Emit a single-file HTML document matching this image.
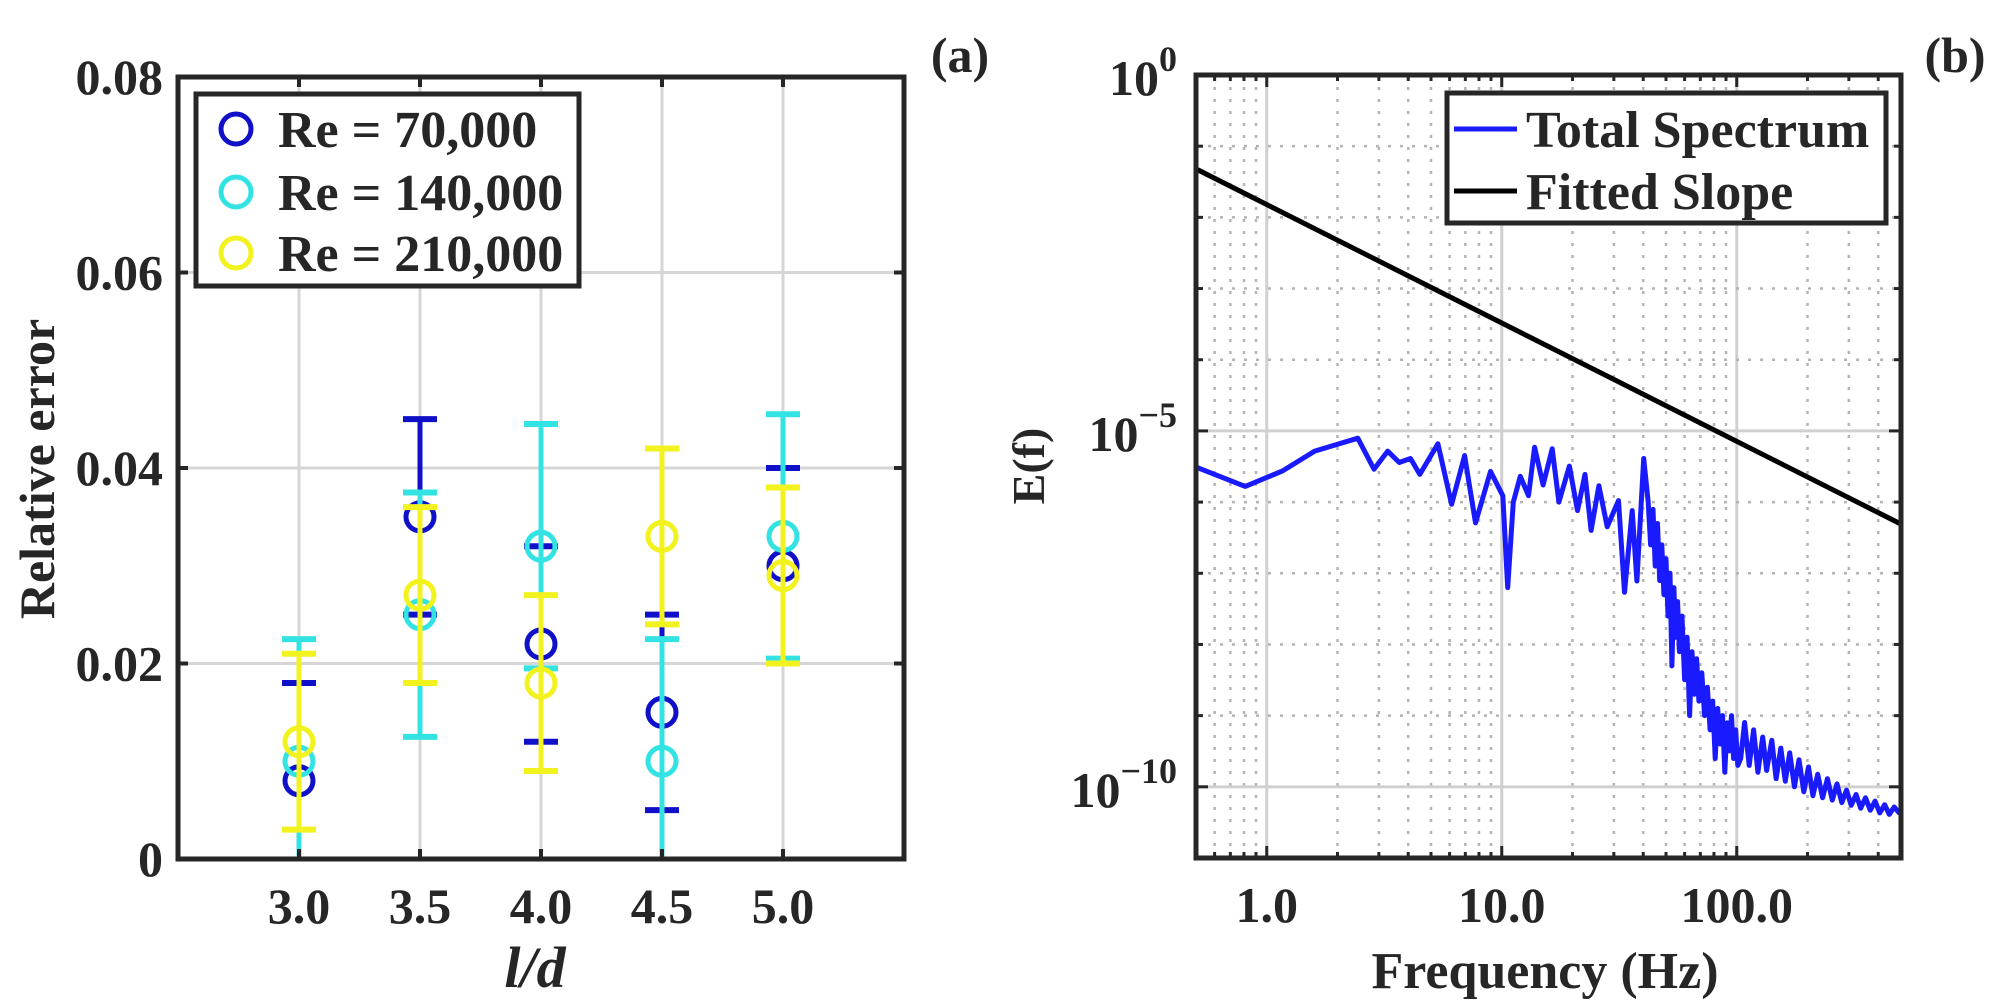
<!DOCTYPE html>
<html><head><meta charset="utf-8"><style>
html,body{margin:0;padding:0;background:#fff;}
svg{display:block;}
text{font-family:"Liberation Serif",serif;font-weight:bold;fill:#262626;}
</style></head><body>
<svg id="fig" width="2002" height="1007" viewBox="0 0 2002 1007" xmlns="http://www.w3.org/2000/svg">
<defs>
<clipPath id="clipA"><rect x="178" y="77" width="726" height="782"/></clipPath>
<clipPath id="clipB"><rect x="1196" y="75" width="705" height="783"/></clipPath>
</defs>
<g id="gridA"></g>
<g id="gridB"></g>
<g id="marksA" clip-path="url(#clipA)"></g>
<g id="marksB" clip-path="url(#clipB)"></g>
<g id="axesA"></g>
<g id="axesB"></g>

<text x="960" y="72" font-size="50" text-anchor="middle">(a)</text>
<text x="1955" y="72" font-size="50" text-anchor="middle">(b)</text>
<text x="0" y="0" font-size="50" text-anchor="middle" transform="translate(54,469) rotate(-90)">Relative error</text>
<text x="535" y="987" font-size="58" font-style="italic" text-anchor="middle">l/d</text>
<text x="0" y="0" font-size="46" text-anchor="middle" transform="translate(1044,466) rotate(-90)">E(f)</text>
<text x="1545" y="988" font-size="52" text-anchor="middle">Frequency (Hz)</text>

<g>
<rect x="196" y="94" width="383" height="192" fill="#fff" stroke="#262626" stroke-width="5"/>
<g><circle cx="236" cy="129" r="15" fill="none" stroke="#1010c8" stroke-width="5"/><text x="278" y="147" font-size="52">Re = 70,000</text></g>
<g><circle cx="236" cy="192" r="15" fill="none" stroke="#33e3e3" stroke-width="5"/><text x="278" y="210" font-size="52">Re = 140,000</text></g>
<g><circle cx="236" cy="253" r="15" fill="none" stroke="#f2f21e" stroke-width="5"/><text x="278" y="271" font-size="52">Re = 210,000</text></g>
</g>
<g>
<rect x="1447" y="93" width="439" height="130" fill="#fff" stroke="#262626" stroke-width="5"/>
<g><line x1="1454" y1="129" x2="1517" y2="129" stroke="#1a1aff" stroke-width="5"/><text x="1526" y="147" font-size="52">Total Spectrum</text></g>
<g><line x1="1454" y1="191" x2="1517" y2="191" stroke="#000" stroke-width="5"/><text x="1526" y="209" font-size="52">Fitted Slope</text></g>
</g>
</svg>
<script>
// ---- Panel (a) data ----
const ldValues = [3.0, 3.5, 4.0, 4.5, 5.0];
const ldTickLabels = ["3.0", "3.5", "4.0", "4.5", "5.0"];
const errTicks = [0, 0.02, 0.04, 0.06, 0.08];
const errTickLabels = ["0", "0.02", "0.04", "0.06", "0.08"];
const re70 = [0.008, 0.035, 0.022, 0.015, 0.030];
const re70Err = [0.010, 0.010, 0.010, 0.010, 0.010];
const re140 = [0.010, 0.025, 0.032, 0.010, 0.033];
const re140Err = [0.0125, 0.0125, 0.0125, 0.0125, 0.0125];
const re210 = [0.012, 0.027, 0.018, 0.033, 0.029];
const re210Err = [0.009, 0.009, 0.009, 0.009, 0.009];
// ---- Panel (b) data ----
const freqTicks = [1, 10, 100];
const freqTickLabels = ["1.0", "10.0", "100.0"];
const eDecadeTicks = [0, -5, -10];
const specFreq = [0.5,0.81,1.17,1.6,2.44,2.86,3.27,3.66,4.09,4.48,5.35,6.12,6.95,7.73,8.96,10.1,10.6,11.2,12.0,13.0,13.8,15.0,16.4,17.5,19.4,21.0,22.6,24.0,25.9,28.1,31.4,33.3,35.9,37.6,40.2,
42,43,44,45,46,47,48,49,50,51,52,53,54,55,56,57,58.5,60,61.5,63,64.5,66,67.5,69,71,73,75,77,79,81,83,85,87,89,91,93,95,97,99,101,
104,108,113,118,123,129,134,141,147,154,161,168,176,184,193,202,211,221,232,243,255,267,280,293,307,322,337,353,370,388,406,426,446,468,494];
const specE = [3.1e-6,1.66e-6,2.75e-6,5.2e-6,7.9e-6,2.9e-6,5.2e-6,3.6e-6,4.1e-6,2.45e-6,6.6e-6,9.3e-7,4.5e-6,5.1e-7,2.7e-6,1.23e-6,6.3e-8,1.0e-6,2.3e-6,1.23e-6,5.9e-6,1.74e-6,5.6e-6,1.0e-6,3.2e-6,7.6e-7,2.45e-6,4.0e-7,1.7e-6,4.5e-7,1.05e-6,5.4e-8,7.6e-7,7.8e-8,4.1e-6,
1e-6,2.5e-7,7.9e-7,1.26e-7,5e-7,7.9e-8,2.5e-7,5e-8,1.6e-7,2.5e-8,1e-7,5e-9,6.3e-8,1.26e-8,4e-8,7.9e-9,2.5e-8,3.2e-9,1.26e-8,1e-9,7.9e-9,2e-9,6.3e-9,1.6e-9,4e-9,1e-9,2.5e-9,6.3e-10,1.6e-9,2.5e-10,1.26e-9,4e-10,1e-9,1.6e-10,7.9e-10,3.2e-10,1e-9,2.5e-10,6.3e-10,2e-10,
2.5e-10,8e-10,2.0e-10,6.3e-10,1.6e-10,5e-10,1.7e-10,4.5e-10,1.3e-10,3.5e-10,1.2e-10,3e-10,1.0e-10,2.4e-10,8.5e-11,1.9e-10,7.5e-11,1.5e-10,7e-11,1.3e-10,6.5e-11,1.1e-10,6e-11,9e-11,5.5e-11,7.8e-11,5e-11,7e-11,4.7e-11,6.3e-11,4.3e-11,5.6e-11,4.1e-11,5.2e-11,4.2e-11];
const fitFreq = [0.5, 500];
const fitE = [0.048, 4.9e-7];

const NS = "http://www.w3.org/2000/svg";
function mk(tag, attrs, parent){const e=document.createElementNS(NS,tag);for(const k in attrs)e.setAttribute(k,attrs[k]);parent.appendChild(e);return e;}
const AX = "#262626";

const A = {l:178, r:904, t:77, b:859, x0:2.5, x1:5.5, y0:0, y1:0.08};
function xa(v){return A.l + (v - A.x0) / (A.x1 - A.x0) * (A.r - A.l);}
function ya(v){return A.b - (v - A.y0) / (A.y1 - A.y0) * (A.b - A.t);}
const B = {l:1196, r:1901, t:75, b:858, lf0:Math.log10(0.5), lf1:Math.log10(500), le0:0, le1:-11};
function xb(f){return B.l + (Math.log10(f) - B.lf0) / (B.lf1 - B.lf0) * (B.r - B.l);}
function ybLog(le){return B.t + (le - B.le0) / (B.le1 - B.le0) * (B.b - B.t);}
function yb(E){return ybLog(Math.log10(E));}

const gA = document.getElementById('gridA');
ldValues.forEach(v=>{const l=mk('line',{x1:xa(v),x2:xa(v),y1:A.t,y2:A.b,stroke:'#d6d6d6','stroke-width':3},gA);

});
errTicks.forEach(v=>{const l=mk('line',{x1:A.l,x2:A.r,y1:ya(v),y2:ya(v),stroke:'#d6d6d6','stroke-width':3},gA);

});

const axA = document.getElementById('axesA');
ldValues.forEach((v,i)=>{
  mk('line',{x1:xa(v),x2:xa(v),y1:A.b,y2:A.b-10,stroke:AX,'stroke-width':4},axA);
  mk('line',{x1:xa(v),x2:xa(v),y1:A.t,y2:A.t+10,stroke:AX,'stroke-width':4},axA);
  const t=mk('text',{x:xa(v),y:ya(0)+64,'font-size':50,'text-anchor':'middle'},axA);
  t.textContent=ldTickLabels[i];
  
  
});
errTicks.forEach((v,i)=>{
  mk('line',{x1:A.l,x2:A.l+10,y1:ya(v),y2:ya(v),stroke:AX,'stroke-width':4},axA);
  mk('line',{x1:A.r,x2:A.r-10,y1:ya(v),y2:ya(v),stroke:AX,'stroke-width':4},axA);
  const t=mk('text',{x:163,y:ya(v)+17,'font-size':50,'text-anchor':'end'},axA);
  t.textContent=errTickLabels[i];
  
  
});
const boxA=mk('rect',{x:A.l,y:A.t,width:A.r-A.l,height:A.b-A.t,fill:'none',stroke:AX,'stroke-width':5},axA);



const mA = document.getElementById('marksA');
function drawSeries(vals, errs, color, name){
  const g=mk('g',{},mA);
  
  
  vals.forEach((v,i)=>{
    const x=xa(ldValues[i]), yt=ya(v+errs[i]), yl=ya(v-errs[i]), yc=ya(v);
    const bar=mk('line',{x1:x,x2:x,y1:yt,y2:yl,stroke:color,'stroke-width':5},g);
    
    
    mk('line',{x1:x-17,x2:x+17,y1:yt,y2:yt,stroke:color,'stroke-width':6},g);
    mk('line',{x1:x-17,x2:x+17,y1:yl,y2:yl,stroke:color,'stroke-width':6},g);
    const c=mk('circle',{cx:x,cy:yc,r:14,fill:'none',stroke:color,'stroke-width':5},g);
    
    
  });
}
drawSeries(re70, re70Err, '#1010c8', 're70-series');
drawSeries(re140, re140Err, '#33e3e3', 're140-series');
drawSeries(re210, re210Err, '#f2f21e', 're210-series');

const gB = document.getElementById('gridB');
for(let d=-1; d<=2; d++){
  for(let m=1; m<=9; m++){
    const f=m*Math.pow(10,d);
    if(f<0.5||f>500) continue;
    if(m===1){
      const l=mk('line',{x1:xb(f),x2:xb(f),y1:B.t,y2:B.b,stroke:'#d0d0d0','stroke-width':3},gB);
      
      
    } else {
      const l=mk('line',{x1:xb(f),x2:xb(f),y1:B.t,y2:B.b,stroke:'#b4b4b4','stroke-width':2.5,'stroke-dasharray':'3,9'},gB);
      
      
    }
  }
}
for(let le=0; le>=-11; le--){
  if(le%5===0){
    const l=mk('line',{x1:B.l,x2:B.r,y1:ybLog(le),y2:ybLog(le),stroke:'#d0d0d0','stroke-width':3},gB);
    
    
  } else {
    const l=mk('line',{x1:B.l,x2:B.r,y1:ybLog(le),y2:ybLog(le),stroke:'#b4b4b4','stroke-width':2.5,'stroke-dasharray':'3,9'},gB);
    
    
  }
}

const mB = document.getElementById('marksB');
let dS=''; specFreq.forEach((f,i)=>{dS+=(i?'L':'M')+xb(f).toFixed(1)+','+yb(specE[i]).toFixed(1);});
const sp=mk('path',{d:dS,fill:'none',stroke:'#1a1aff','stroke-width':5,'stroke-linejoin':'round'},mB);


let dF=''; fitFreq.forEach((f,i)=>{dF+=(i?'L':'M')+xb(f).toFixed(1)+','+yb(fitE[i]).toFixed(1);});
const fl=mk('path',{d:dF,fill:'none',stroke:'#000','stroke-width':5},mB);



const axB = document.getElementById('axesB');
for(let d=-1; d<=2; d++){
  for(let m=1; m<=9; m++){
    const f=m*Math.pow(10,d);
    if(f<0.5||f>500) continue;
    const len=(m===1)?12:6;
    mk('line',{x1:xb(f),x2:xb(f),y1:B.b,y2:B.b-len,stroke:AX,'stroke-width':3},axB);
    mk('line',{x1:xb(f),x2:xb(f),y1:B.t,y2:B.t+len,stroke:AX,'stroke-width':3},axB);
  }
}
freqTicks.forEach((f,i)=>{
  const t=mk('text',{x:xb(f),y:B.b+64,'font-size':50,'text-anchor':'middle'},axB);
  t.textContent=freqTickLabels[i];
  
  
});
for(let le=0; le>=-11; le--){
  const len=(le%5===0)?12:7;
  mk('line',{x1:B.l,x2:B.l+len,y1:ybLog(le),y2:ybLog(le),stroke:AX,'stroke-width':3},axB);
  mk('line',{x1:B.r,x2:B.r-len,y1:ybLog(le),y2:ybLog(le),stroke:AX,'stroke-width':3},axB);
}
eDecadeTicks.forEach(le=>{
  const t=mk('text',{x:1177,y:ybLog(le)+20,'font-size':50,'text-anchor':'end'},axB);
  
  
  const base=document.createElementNS(NS,'tspan'); base.textContent='10'; t.appendChild(base);
  const sup=document.createElementNS(NS,'tspan'); sup.setAttribute('dy','-24'); sup.setAttribute('font-size','36');
  sup.textContent=(le===0?'0':'\u2212'+(-le)); t.appendChild(sup);
});
const boxB=mk('rect',{x:B.l,y:B.t,width:B.r-B.l,height:B.b-B.t,fill:'none',stroke:AX,'stroke-width':5},axB);


</script>
</body></html>
